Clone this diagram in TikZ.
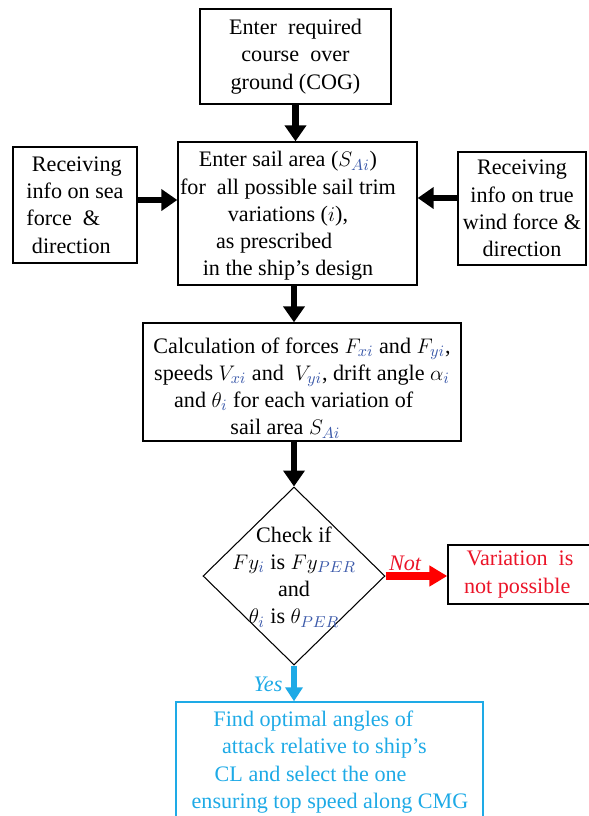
\documentclass[tikz,border=0pt]{standalone}
\usepackage{fontspec}
\setmainfont{Liberation Serif}
\usepackage{tikz}
\usetikzlibrary{arrows.meta,shapes.geometric,calc}

\definecolor{subblue}{RGB}{60,90,170}
\definecolor{yescyan}{RGB}{30,170,230}
\definecolor{notred}{RGB}{235,20,40}
\newcommand{\subc}[1]{\textcolor{subblue}{#1}}

\tikzset{
  txt/.style={font=\fontsize{12.6}{15.5}\selectfont, align=center},
  box/.style={txt, draw, line width=0.8pt, inner sep=0pt},
  decision/.style={draw, diamond, line width=0.6pt, inner sep=0pt, aspect=1},
  blk/.style={line width=0.13cm, -{Triangle[length=0.32cm,width=0.42cm]}},
  redarr/.style={red, line width=0.15cm, -{Triangle[length=0.36cm,width=0.4cm]}},
  cyanarr/.style={yescyan, line width=0.13cm, -{Triangle[length=0.28cm,width=0.34cm]}}
}

\begin{document}
\begin{tikzpicture}[x=0.02cm,y=-0.02cm]
\useasboundingbox (0,0) rectangle (589,816);
\clip (0,0) rectangle (589,816);

\node[box, minimum width=3.82cm, minimum height=1.9cm] (cog) at (295.5,56.5)
  {Enter\ \ required\\ course\ \ over\\ ground (COG)};
\node[box, minimum width=4.78cm, minimum height=2.86cm] (sail) at (297.5,213.5) {};
\node[txt] (sailtxt) at (288,216)
  {Enter sail area ($S_{\subc{Ai}}$)\\ for\ \ all possible sail trim\\ variations ($i$),\\ as prescribed\ \ \ \ \ \ \ \\ in the ship's design};
\node[box, align=left, minimum width=2.48cm, minimum height=2.32cm] (sea) at (75,205)
  {\ Receiving\\ info on sea\\ force\ \ \&\\ \ direction};
\node[box, minimum width=2.56cm, minimum height=2.26cm] (wind) at (522,208.5)
  {Receiving\\ info on true\\ wind force \&\\ direction};
\node[box, minimum width=6.36cm, minimum height=2.36cm] (calc) at (302,382) {};
\node[txt] (calctxt) at (302,388)
  {Calculation of forces $F_{\subc{xi}}$ and $F_{\subc{yi}}$,\\ speeds $V_{\subc{xi}}$ and\ \ $V_{\subc{yi}}$, drift angle $\alpha_{\subc{i}}$\\ and $\theta_{\subc{i}}$ for each variation of\ \ \ \ \ \\ sail area $S_{\subc{Ai}}$\ \ \ \ \ \ \ };
\node[decision, minimum width=3.64cm, minimum height=3.56cm] (chk) at (294,576) {};
\node[txt] (chktxt) at (294,577)
  {Check if\\ $Fy_{\subc{i}}$ is $Fy_{\subc{PER}}$\\ and\\ $\theta_{\subc{i}}$ is $\theta_{\subc{PER}}$};
\node[box, text=notred, minimum width=2.88cm, minimum height=1.18cm] (nop) at (520,574.5)
  {Variation\ \ is\\ not possible\ \ };
\node[box, draw=yescyan, minimum width=6.14cm, minimum height=2.56cm] (opt) at (329.5,766) {};
\node[txt, text=yescyan] (opttxt) at (330,762)
  {Find optimal angles of\ \ \ \ \ \ \ \\ attack relative to ship's\ \ \ \ \\ CL and select the one\ \ \ \ \ \ \ \ \ \\ ensuring top speed along CMG};

\node[txt, text=notred, font=\fontsize{12.6}{15.5}\itshape] (notlbl) at (405,563) {Not};
\node[txt, text=yescyan, font=\fontsize{12.6}{15.5}\itshape] (yeslbl) at (268,684) {Yes};

\draw[blk] (cog.south) -- (cog.south |- sail.north);
\draw[blk] ([yshift=0.1cm]sea.east) -- ([yshift=0.1cm]sea.east -| sail.west);
\draw[blk] ([yshift=0.21cm]wind.west) -- ([yshift=0.21cm]wind.west -| sail.east);

\draw[blk] (chk.north |- sail.south) -- (chk.north |- calc.north);
\draw[blk] (chk.north |- calc.south) -- (chk.north);

\draw[redarr] (chk.east) -- (chk.east -| nop.west);
\draw[cyanarr] (chk.south) -- (chk.south |- opt.north);
\end{tikzpicture}
\end{document}
